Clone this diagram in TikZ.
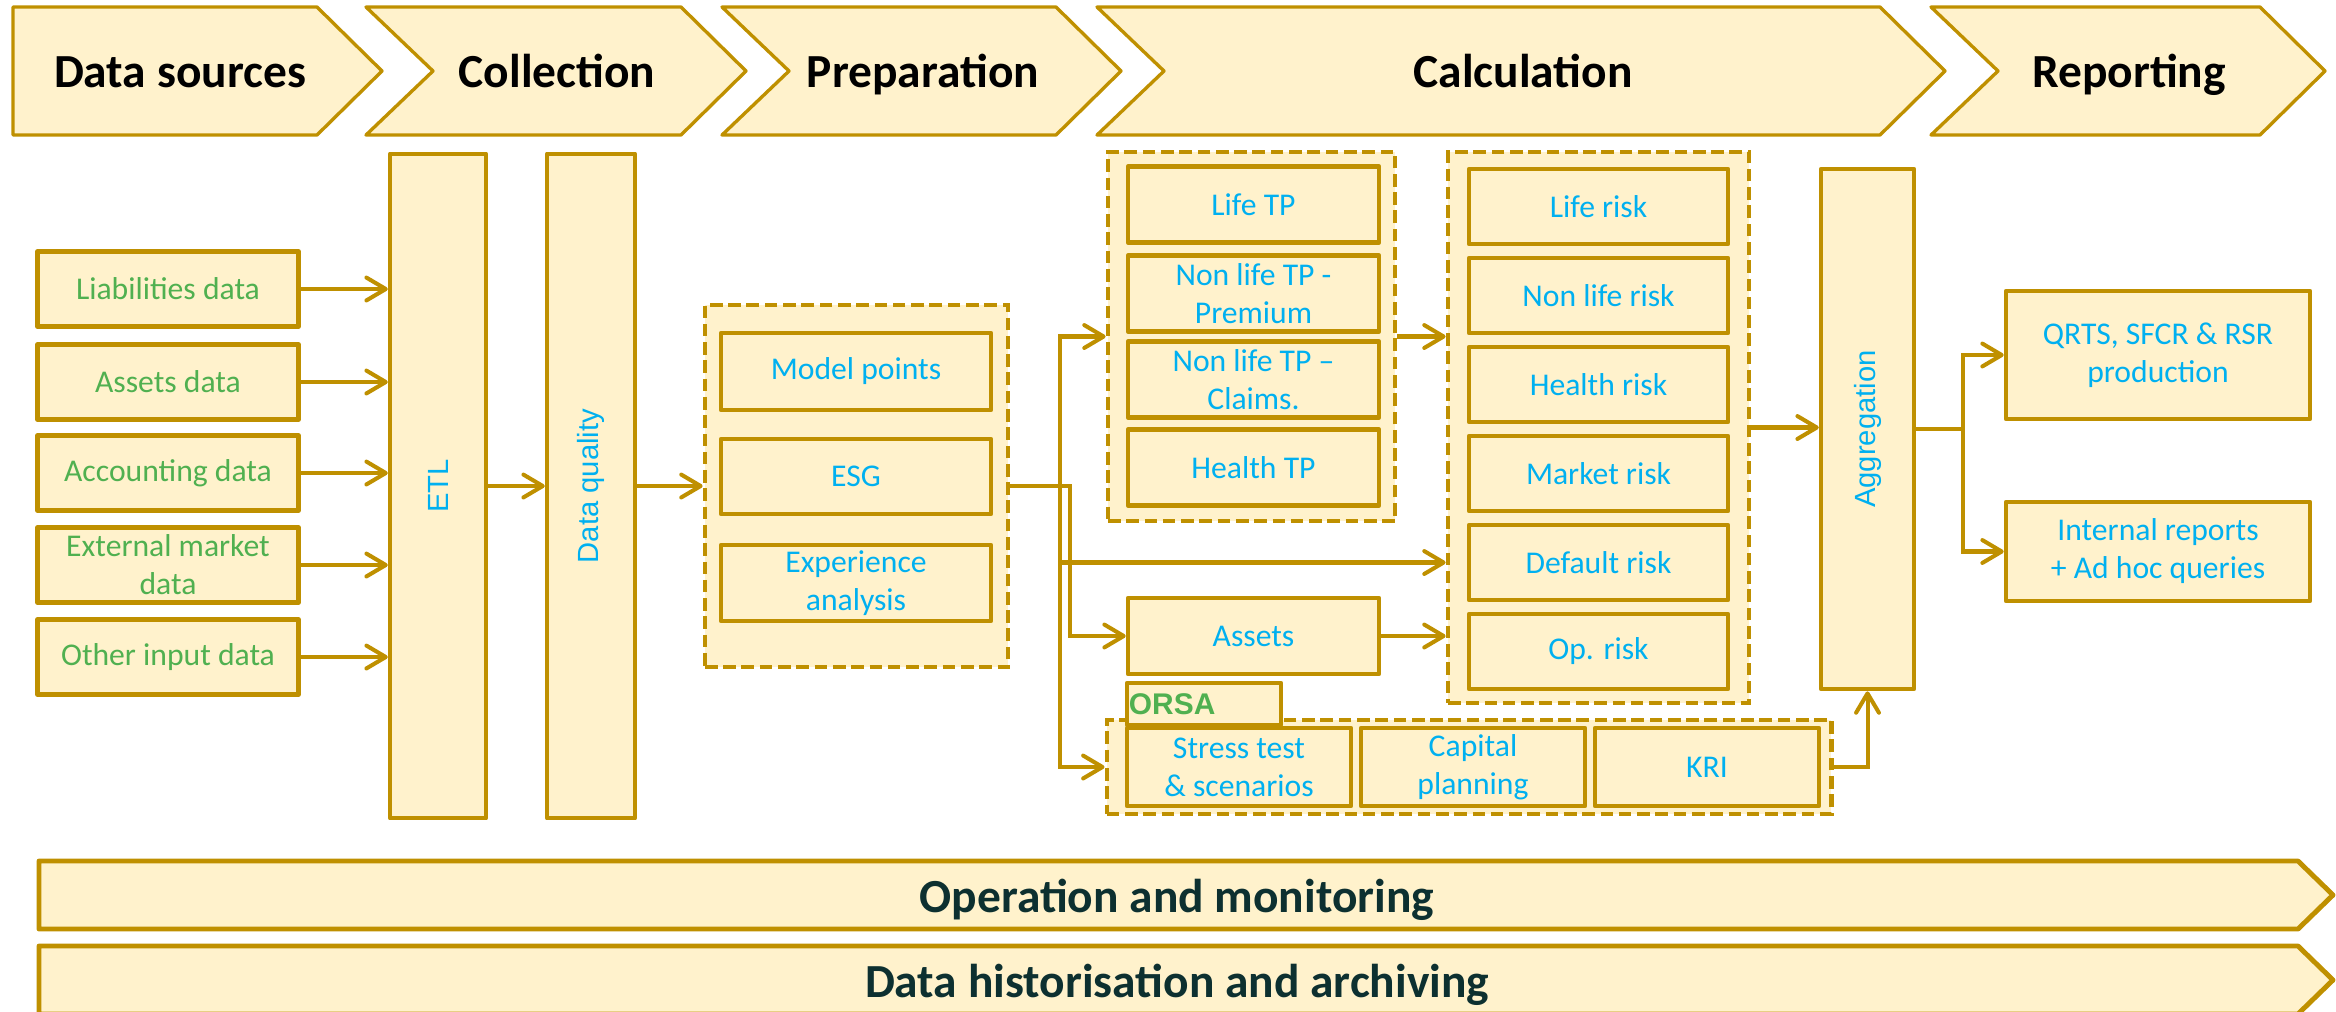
\documentclass[tikz,border=0pt]{standalone}
\usepackage{fontspec}
\setmainfont{Carlito}
\newfontfamily\armfont{Liberation Sans}
\usetikzlibrary{arrows.meta}

\definecolor{gold}{RGB}{191,144,0}
\definecolor{cream}{RGB}{255,242,204}
\definecolor{skyblue}{RGB}{0,176,240}
\definecolor{leaf}{RGB}{80,176,80}
\definecolor{ink}{RGB}{13,48,48}

\tikzset{
  phase/.style={draw=gold, fill=cream, line width=0.95pt, line join=round},
  phasetext/.style={anchor=base, font=\fontsize{13.5}{16}\selectfont\bfseries, inner sep=0pt},
  box/.style={draw=gold, fill=cream, line width=1.25pt, line join=round, inner sep=1pt,
    align=center, text=skyblue, font=\fontsize{9}{10.8}\selectfont},
  srcbox/.style={box, text=leaf, minimum width=2.61cm, minimum height=0.75cm},
  grp/.style={draw=gold, fill=cream, line width=1.3pt, dash pattern=on 3.6pt off 1.6pt},
  vlabel/.style={rotate=90, inner sep=0pt, text=skyblue, font=\armfont\fontsize{8.3}{10}\selectfont},
  bartext/.style={anchor=base, text=ink, inner sep=0pt, font=\fontsize{13.5}{16}\selectfont\bfseries},
  arr/.style={draw=gold, line width=1.15pt, -{Straight Barb[length=5.5pt,width=6.5pt,round]}},
}

\begin{document}
\begin{tikzpicture}[x=0.01cm, y=-0.01cm]
\clip (0,0) rectangle (2336,1011);

% Phase headers
\foreach \xl/\xr/\nd/\tx/\nm/\txt in {13/317/0/180/ds/Data sources, 366/681/67/557/coll/Collection,
    722/1056/67/923/prepa/Preparation, 1097/1880/67/1523/calc/Calculation, 1931/2260/67/2129/rep/Reporting}{
  \draw[phase] (\xl,7) -- (\xr,7) -- (\xr+65,71) -- (\xr,135) -- (\xl,135) -- (\xl+\nd,71) -- cycle;
  \node[phasetext] (ph-\nm) at (\tx,87) {\txt};
}

% Collection
\node[box, minimum width=0.96cm, minimum height=6.64cm] (etl) at (438,486) {};
\node[vlabel] (etl-txt) at (etl) {ETL};
\node[box, minimum width=0.88cm, minimum height=6.64cm] (dq) at (591,486) {};
\node[vlabel] (dq-txt) at (dq) {Data quality};

% Data sources
\foreach \y/\nm/\txt in {289/liab/Liabilities data, 382/assetd/Assets data, 473/acct/Accounting data,
    565/ext/External market\\data, 657/other/Other input data}{
  \node[srcbox] (\nm) at (168,\y) {\txt};
  \draw[arr] (\nm.east) -- (\nm.east -| etl.west);
}

% Preparation
\node[grp, minimum width=3.03cm, minimum height=3.62cm] (prep) at (856.5,486) {};
\node[box, minimum width=2.7cm, minimum height=0.77cm] (mp) at (856,371.5) {Model points};
\node[box, minimum width=2.7cm, minimum height=0.75cm] (esg) at (856,476.5) {ESG};
\node[box, minimum width=2.7cm, minimum height=0.76cm] (exp) at (856,583) {Experience\\analysis};

\draw[arr] (etl.east) -- (dq.west);
\draw[arr] (dq.east) -- (prep.west);

% Technical provisions
\node[grp, minimum width=2.87cm, minimum height=3.69cm] (tp) at (1251.5,336.5) {};
\node[box, minimum width=2.51cm, minimum height=0.76cm] (lifetp) at (1253.5,204.5) {Life TP};
\node[box, minimum width=2.51cm, minimum height=0.76cm] (nlprem) at (1253.5,293.5) {Non life TP -\\Premium};
\node[box, minimum width=2.51cm, minimum height=0.76cm] (nlclaim) at (1253.5,379.5) {Non life TP --\\Claims.};
\node[box, minimum width=2.51cm, minimum height=0.76cm] (healthtp) at (1253.5,467.5) {Health TP};
\node[box, minimum width=2.51cm, minimum height=0.76cm] (assets) at (1253.5,636) {Assets};

% Risk modules
\node[grp, minimum width=3.01cm, minimum height=5.51cm] (risk) at (1598.5,427.5) {};
\foreach \nm/\txt [count=\i from 0] in {lrisk/Life risk, nlrisk/Non life risk, hrisk/Health risk,
    mrisk/Market risk, drisk/Default risk, oprisk/Op. risk}
  \node[box, minimum width=2.59cm, minimum height=0.75cm] (\nm) at (1598.5,206.5+89*\i) {\txt};

% ORSA
\node[grp, minimum width=7.24cm, minimum height=0.94cm] (orsa) at (1469,767) {};
\node[box, minimum width=1.54cm, minimum height=0.42cm] (orsa-tab) at (1204,704) {};
\node[anchor=west, inner sep=0pt, text=leaf, font=\armfont\bfseries\fontsize{8.5}{10}\selectfont]
  (orsa-lbl) at ([xshift=1pt]orsa-tab.west) {ORSA};
\node[box, minimum width=2.24cm, minimum height=0.78cm] (stress) at (1239,767) {Stress test\\\& scenarios};
\node[box, minimum width=2.24cm, minimum height=0.78cm] (capital) at (1473,767) {Capital\\planning};
\node[box, minimum width=2.24cm, minimum height=0.78cm] (kri) at (1707,767) {KRI};

% Aggregation and reporting
\node[box, minimum width=0.93cm, minimum height=5.2cm] (agg) at (1867.5,429) {};
\node[vlabel] (agg-txt) at (agg) {Aggregation};
\node[box, minimum width=3.04cm, minimum height=1.28cm] (qrts) at (2158,355) {QRTS, SFCR \& RSR\\production};
\node[box, minimum width=3.04cm, minimum height=0.99cm] (intrep) at (2158,551.5) {Internal reports\\+ Ad hoc queries};

% Flows
\coordinate (split) at (1060,486);
\draw[arr] (prep.east) -- ++(60,0) |- (assets.west);
\draw[arr] (split) |- (tp.west);
\draw[arr] (split) |- (orsa.west);
\draw[arr] (split |- drisk) -- (drisk -| risk.west);
\draw[arr] (tp.east) -- (tp.east -| risk.west);
\draw[arr] (assets.east) -- (assets.east -| risk.west);
\draw[arr] (risk.east) -- (risk.east -| agg.west);
\draw[arr] (orsa.east) -| (agg.south);
\draw[arr] (agg.east) -- ++(47,0) |- (qrts.west);
\draw[arr] (agg.east) -- ++(47,0) |- (intrep.west);

% Transversal bars
\draw[phase, line width=1.4pt] (39,861) -- (2298,861) -- (2333,895) -- (2298,929) -- (39,929) -- cycle;
\node[bartext] (opmon) at (1177,912) {Operation and monitoring};
\draw[phase, line width=1.4pt] (39,946) -- (2298,946) -- (2333,980) -- (2298,1014) -- (39,1014) -- cycle;
\node[bartext] (archiv) at (1177,997) {Data historisation and archiving};

\end{tikzpicture}
\end{document}
